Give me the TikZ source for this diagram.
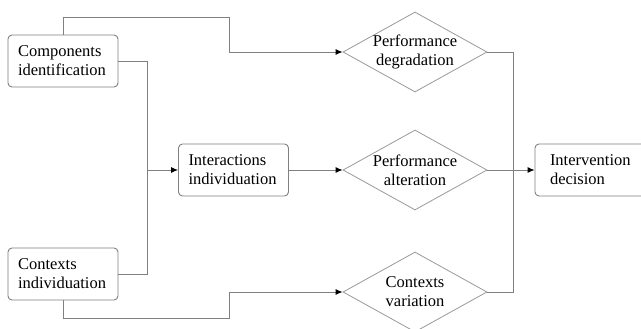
\documentclass[tikz,border=0pt]{standalone}
\usepackage{fontspec}
\setmainfont{Liberation Serif}
\newfontfamily\labelfont{Liberation Serif}
\usepackage{tikz}
\usetikzlibrary{shapes.geometric,arrows.meta}
\tikzstyle{block} = [rectangle, draw=gray, line width=0.9pt, rounded corners=4pt, text width=90pt, align=left, inner xsep=10pt, inner ysep=0pt, minimum width=110pt, minimum height=52pt, font=\labelfont\fontsize{16.5}{19}\selectfont]
\tikzstyle{choice} = [diamond, draw=gray!80, line width=0.8pt, aspect=1.8, inner sep=-2pt, minimum width=144pt, minimum height=80pt, align=center, font=\labelfont\fontsize{16.5}{19}\selectfont]
\tikzstyle{line} = [draw=gray, line width=0.9pt, -{Latex[black,length=7pt,width=6pt]}]
\tikzstyle{wire} = [draw=gray, line width=0.9pt]

\begin{document}
\begin{tikzpicture}[x=1pt, y=-1pt]
					\useasboundingbox (0,0) rectangle (641,329);
					\clip (0,0) rectangle (641,329);
					\node [block] (components) at (63,61) {Components\\identification};
					\node [block] (contexts) at (63,274) {Contexts\\individuation};
					\node [block] (interactions) at (233.5,170) {Interactions\\individuation};
					\node [block, text width=100pt, inner xsep=15pt, minimum width=130pt] (intervention) at (600,170) {Intervention\\decision};
					\node [choice] (degradation) at (415,52) {Performance\\degradation};
					\node [choice] (alteration) at (415,170) {Performance\\alteration};
					\node [choice] (variation) at (415,292) {Contexts\\variation};
					\coordinate (topbend) at (229,17);
					\coordinate (botbend) at (229,318);
					\coordinate (leftjoin) at (147,170);
					\coordinate (rightjoin) at (513,170);
					\path [line] (components.north) |- (topbend) |- (degradation.west);
					\path [line] (components.east) -| (leftjoin) -- (interactions.west);
					\path [wire] (contexts.east) -| (leftjoin);
					\path [line] (contexts.south) |- (botbend) |- (variation.west);
					\path [line] (interactions.east) -- (alteration.west);
					\path [wire] (degradation.east) -| (rightjoin);
					\path [wire] (variation.east) -| (rightjoin);
					\path [line] (alteration.east) -- (intervention.west);
				\end{tikzpicture}
\end{document}
